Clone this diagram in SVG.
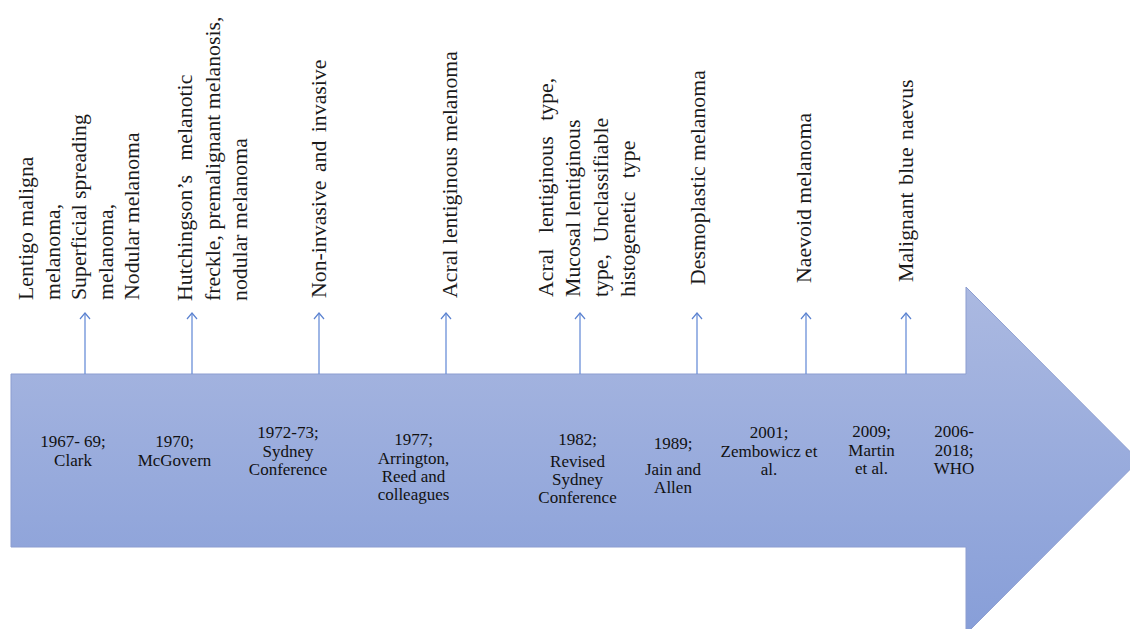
<svg xmlns="http://www.w3.org/2000/svg" width="1130" height="629" viewBox="0 0 1130 629">
  <defs>
    <linearGradient id="arrowFill" gradientUnits="userSpaceOnUse" x1="0" y1="287" x2="0" y2="634">
      <stop offset="0" stop-color="#abb9e1"/>
      <stop offset="1" stop-color="#879ed8"/>
    </linearGradient>
    <marker id="open" viewBox="-8 -7 10 14" refX="0" refY="0" markerWidth="10" markerHeight="14" markerUnits="userSpaceOnUse" orient="auto">
      <path d="M-6,-5 L0,0 L-6,5" fill="none" stroke="#5b82d0" stroke-width="1.2"/>
    </marker>
  </defs>
  <style>
    .desc { font-family: "Liberation Serif", "Times New Roman", serif; font-size: 21.8px; fill: #1a1a1a; }
    .year { font-family: "Liberation Serif", "Times New Roman", serif; font-size: 17px; fill: #111; text-anchor: middle; }
    .conn { stroke: #6a8fd8; stroke-width: 1.3; fill: none; marker-end: url(#open); }
  </style>
  <rect width="1130" height="629" fill="#ffffff"/>

  <g id="timeline-arrow">
    <polygon points="11,374 966,374 966,287 1139,460.5 966,634 966,547 11,547" fill="url(#arrowFill)" stroke="#8c9dd0" stroke-width="1"/>
  </g>

  <g id="connectors">
    <line class="conn" x1="85" y1="374" x2="85" y2="313"/>
    <line class="conn" x1="192" y1="374" x2="192" y2="313"/>
    <line class="conn" x1="319" y1="374" x2="319" y2="313"/>
    <line class="conn" x1="446" y1="374" x2="446" y2="313"/>
    <line class="conn" x1="580" y1="374" x2="580" y2="313"/>
    <line class="conn" x1="697" y1="374" x2="697" y2="313"/>
    <line class="conn" x1="806" y1="374" x2="806" y2="313"/>
    <line class="conn" x1="906" y1="374" x2="906" y2="313"/>
  </g>

  <g id="m1967">
    <text class="desc" transform="translate(33,300) rotate(-90)">
      <tspan x="0" y="0">Lentigo maligna</tspan>
      <tspan x="0" dy="26.5">melanoma,</tspan>
      <tspan x="0" dy="26.5">Superficial spreading</tspan>
      <tspan x="0" dy="26.5">melanoma,</tspan>
      <tspan x="0" dy="26.5">Nodular melanoma</tspan>
    </text>
    <text class="year"><tspan x="73" y="447">1967- 69;</tspan><tspan x="73" y="466">Clark</tspan></text>
  </g>

  <g id="m1970">
    <text class="desc" transform="translate(192,301) rotate(-90)">
      <tspan x="0" y="0" word-spacing="9">Hutchingson’s melanotic</tspan>
      <tspan x="0" dy="27.5">freckle, premalignant melanosis,</tspan>
      <tspan x="0" dy="27.5">nodular melanoma</tspan>
    </text>
    <text class="year"><tspan x="174.5" y="447">1970;</tspan><tspan x="174.5" y="466">McGovern</tspan></text>
  </g>

  <g id="m1972">
    <text class="desc" transform="translate(326,298) rotate(-90)" word-spacing="3">Non-invasive and invasive</text>
    <text class="year"><tspan x="288" y="438">1972-73;</tspan><tspan x="288" y="457">Sydney</tspan><tspan x="288" y="475">Conference</tspan></text>
  </g>

  <g id="m1977">
    <text class="desc" transform="translate(457,298) rotate(-90)">Acral lentiginous melanoma</text>
    <text class="year"><tspan x="413.5" y="445">1977;</tspan><tspan x="413.5" y="463.5">Arrington,</tspan><tspan x="413.5" y="482">Reed and</tspan><tspan x="413.5" y="500">colleagues</tspan></text>
  </g>

  <g id="m1982">
    <text class="desc" transform="translate(553,297) rotate(-90)">
      <tspan x="0" y="0" word-spacing="10">Acral lentiginous type,</tspan>
      <tspan x="0" dy="27.3">Mucosal lentiginous</tspan>
      <tspan x="0" dy="27.3" word-spacing="6">type, Unclassifiable</tspan>
      <tspan x="0" dy="27.3" word-spacing="8">histogenetic type</tspan>
    </text>
    <text class="year"><tspan x="577.5" y="445">1982;</tspan><tspan x="577.5" y="467">Revised</tspan><tspan x="577.5" y="485">Sydney</tspan><tspan x="577.5" y="503">Conference</tspan></text>
  </g>

  <g id="m1989">
    <text class="desc" transform="translate(705,285) rotate(-90)">Desmoplastic melanoma</text>
    <text class="year"><tspan x="673" y="449">1989;</tspan><tspan x="673" y="475">Jain and</tspan><tspan x="673" y="493">Allen</tspan></text>
  </g>

  <g id="m2001">
    <text class="desc" transform="translate(811,283) rotate(-90)">Naevoid melanoma</text>
    <text class="year"><tspan x="769" y="438">2001;</tspan><tspan x="769" y="457">Zembowicz et</tspan><tspan x="769" y="475">al.</tspan></text>
  </g>

  <g id="m2009">
    <text class="desc" transform="translate(913,282) rotate(-90)" word-spacing="2">Malignant blue naevus</text>
    <text class="year"><tspan x="871.5" y="437">2009;</tspan><tspan x="871.5" y="456">Martin</tspan><tspan x="871.5" y="474">et al.</tspan></text>
  </g>

  <g id="m2006">
    <text class="year"><tspan x="954" y="437">2006-</tspan><tspan x="954" y="456">2018;</tspan><tspan x="954" y="474">WHO</tspan></text>
  </g>
</svg>
